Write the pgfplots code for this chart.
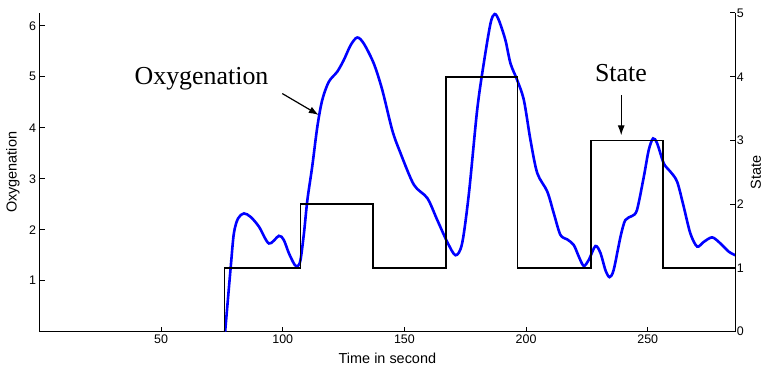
\documentclass[border=0pt]{standalone}
\usepackage{pgfplots}
\pgfplotsset{compat=1.18}
\usepackage{fontspec}
\setmainfont{Liberation Sans}
\newfontfamily\serifann{Liberation Serif}
\usetikzlibrary{arrows.meta}
\begin{document}
\begin{tikzpicture}
\useasboundingbox (-39.5bp,-37.3bp) rectangle (725.5bp,331.7bp);
\begin{axis}[
  at={(0,0)}, anchor=south west,
  scale only axis, width=695.8bp, height=318.7bp,
  xmin=0, xmax=286, ymin=0, ymax=6.25,
  axis x line=bottom, axis y line=left,
  axis line style={-, line width=1.3bp, black},
  tick align=inside, major tick length=5bp,
  every tick/.style={black, line width=1bp},
  xtick={50,100,150,200,250}, ytick={1,2,3,4,5,6},
  /pgf/number format/assume math mode=true,
  tick label style={font=\fontsize{12.5}{14}\selectfont},
  xlabel={Time in second}, ylabel={Oxygenation},
  xlabel style={font=\fontsize{14.5}{17}\selectfont, at={(axis description cs:0.5,0)}, anchor=center, yshift=-27bp},
  ylabel style={font=\fontsize{14.5}{17}\selectfont, at={(axis description cs:-0.0381,0.5)}, anchor=center},
  clip=false,
]
\addplot[blue, line width=2.6bp, smooth] coordinates {
(76.3,0) (78.6,1.27) (79.9,1.93) (81.6,2.22) (84.0,2.32) (86.8,2.25) (90.2,2.06)
(94.3,1.73) (98.4,1.88) (100.4,1.80) (102.5,1.54) (104.9,1.31) (106.2,1.29)
(107.3,1.41) (108.7,1.93) (110.1,2.58) (112.1,3.24) (114.2,4.02) (116.2,4.54)
(118.9,4.90) (122.4,5.10) (125.1,5.33) (127.9,5.62) (130.6,5.77) (133.3,5.65)
(137.4,5.26) (140.9,4.74) (145.0,3.95) (148.4,3.50) (153.9,2.88) (159.4,2.62)
(163.5,2.19) (167.6,1.76) (171.0,1.50) (173.7,1.73) (176.5,2.71) (179.9,4.35)
(182.6,5.26) (185.4,6.05) (187.1,6.23) (188.8,6.11) (191.5,5.72) (193.6,5.26)
(196.3,4.94) (199.1,4.54) (201.8,3.76) (204.6,3.11) (208.7,2.75) (211.4,2.32)
(214.1,1.90) (216.9,1.81) (219.6,1.70) (221.7,1.47) (223.7,1.29) (225.8,1.41)
(228.5,1.68) (230.6,1.54) (232.6,1.21) (234.3,1.07) (236.0,1.21) (238.8,1.86)
(240.8,2.19) (243.6,2.27) (245.6,2.39) (248.4,3.04) (250.4,3.56) (252.2,3.79)
(253.9,3.69) (256.6,3.30) (259.3,3.14) (262.1,2.94) (264.8,2.45) (267.5,1.93)
(270.3,1.67) (273.0,1.76) (276.5,1.85) (279.9,1.73) (283.3,1.57) (286.0,1.50)
};
\node[font=\serifann\fontsize{26}{30}\selectfont, anchor=base] at (axis cs:66.6,4.84) {Oxygenation};
\draw[-{Latex[length=10bp,width=7bp]}, line width=1.2bp] (axis cs:99.8,4.67) -- (axis cs:114.8,4.25);
\node[font=\serifann\fontsize{26}{30}\selectfont, anchor=base] at (axis cs:239.0,4.90) {State};
\draw[-{Latex[length=10bp,width=7bp]}, line width=1.2bp] (axis cs:239.1,4.64) -- (axis cs:239.1,3.85);
\end{axis}
\begin{axis}[
  at={(0,0)}, anchor=south west,
  scale only axis, width=695.8bp, height=318.7bp,
  xmin=0, xmax=286, ymin=0, ymax=5,
  axis x line=none, axis y line=right,
  axis line style={-, line width=1.3bp, black},
  tick align=inside, major tick length=5bp,
  every tick/.style={black, line width=1bp},
  ytick={0,1,2,3,4,5},
  /pgf/number format/assume math mode=true,
  tick label style={font=\fontsize{12.5}{14}\selectfont},
  yticklabel style={xshift=-2bp},
  ylabel={State},
  ylabel style={font=\fontsize{14.5}{17}\selectfont, at={(axis description cs:1.0295,0.5)}, anchor=center},
  clip=false,
]
\addplot[black, line width=1.6bp, const plot] coordinates {
(76,0) (76,1) (107.3,2) (137.2,1) (167,4) (196.4,1) (226.7,3) (256.4,1) (286,1)
};
\end{axis}
\end{tikzpicture}
\end{document}
